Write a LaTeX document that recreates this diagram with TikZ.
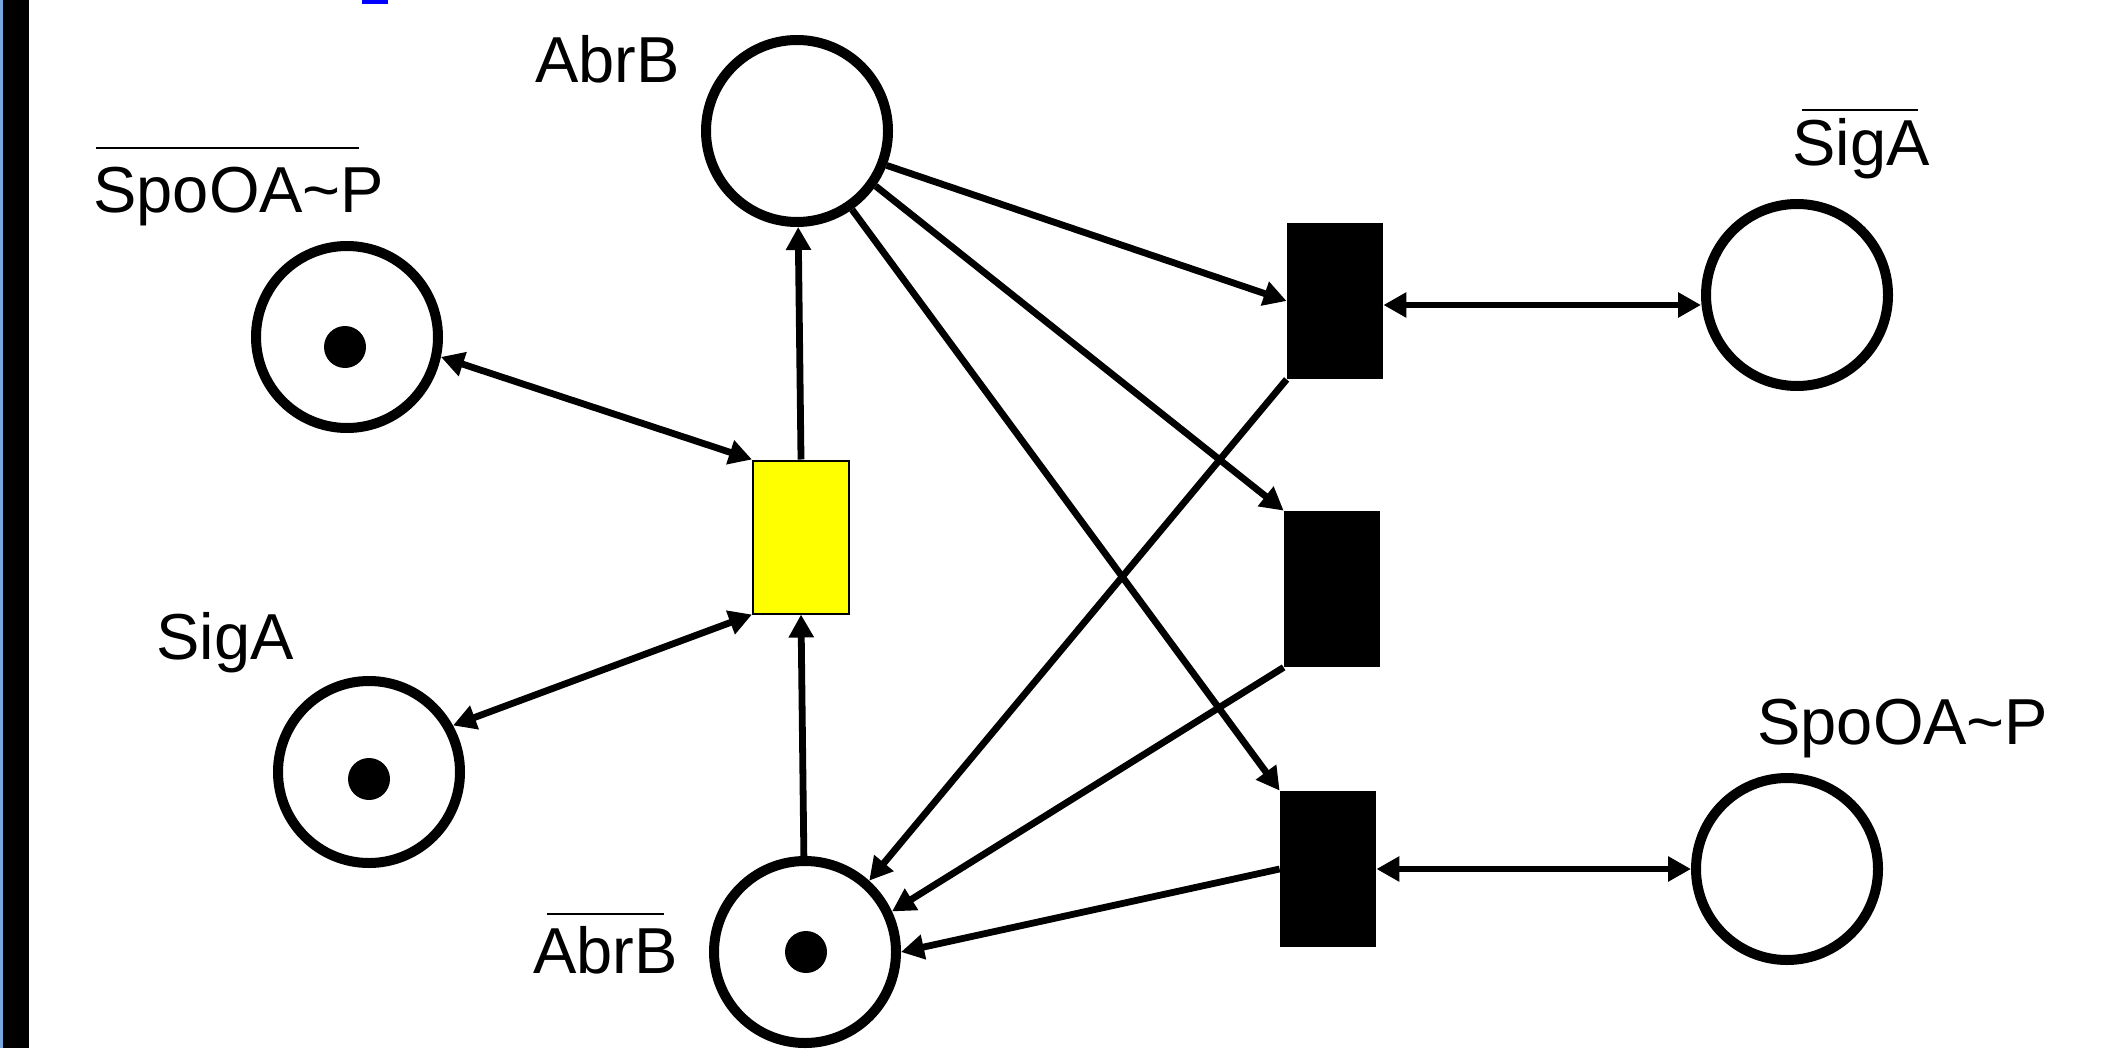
\documentclass[tikz,border=0pt]{standalone}
\usepackage{fontspec}
\setmainfont{Liberation Sans}
\usetikzlibrary{arrows.meta}
\definecolor{edgeblue}{HTML}{78A8E0}
\definecolor{markblue}{RGB}{0,0,255}
\definecolor{pnyellow}{RGB}{255,255,0}
\begin{document}
\begin{tikzpicture}[x=0.5pt,y=-0.5pt,
  place/.style={circle,draw=black,line width=5pt,minimum size=91pt,inner sep=0pt},
  trans/.style={rectangle,fill=black,minimum width=48pt,minimum height=78pt,inner sep=0pt},
  ytrans/.style={rectangle,fill=pnyellow,draw=black,line width=1pt,minimum width=48pt,minimum height=76.5pt,inner sep=0pt},
  token/.style={circle,fill=black,minimum size=21pt,inner sep=0pt},
  lab/.style={anchor=base west,inner sep=0pt,font=\fontsize{32.5pt}{39pt}\selectfont},
  arc/.style={line width=3.4pt,-{Triangle[length=11.5pt,width=12pt]}},
  darc/.style={line width=3.4pt,{Triangle[length=11.5pt,width=12pt]}-{Triangle[length=11.5pt,width=12pt]}},
  ovl/.style={line width=1.4pt}
]
\useasboundingbox (0,0) rectangle (2112,1048);
\fill[white] (0,0) rectangle (2112,1048);
\fill[edgeblue] (0,0) rectangle (3,1048);
\fill[black] (3,0) rectangle (29,1048);
\fill[markblue] (362,0) rectangle (388,4);

% places
\node[place] (A) at (797,131) {};
\node[place] (SP) at (347,337) {};
\node[place] (SG) at (369,772) {};
\node[place] (B) at (805,952) {};
\node[place] (RS) at (1797,295) {};
\node[place] (RP) at (1787,869) {};

% tokens
\node[token] (k1) at (345,347) {};
\node[token] (k2) at (369,779) {};
\node[token] (k3) at (806,952) {};

% transitions
\node[ytrans] (Y) at (801,537) {};
\node[trans] (T1) at (1335,301) {};
\node[trans] (T2) at (1332,589) {};
\node[trans] (T3) at (1328,869) {};

% arcs
\draw[arc] (Y.north) -- (A);
\draw[arc] (B) -- (Y.south);
\draw[darc] (SP.-12) -- (Y.north west);
\draw[darc] (SG.29) -- (Y.south west);
\draw[arc] (A.-21) -- (T1.west);
\draw[arc] (A.-35) -- (T2.north west);
\draw[arc] (A.-55) -- (T3.north west);
\draw[arc] (T1.south west) -- (B.48);
\draw[arc] (T2.south west) -- (B.25);
\draw[arc] (T3.west) -- (B.0);
\draw[darc] ([yshift=-2pt]T1.east) -- ([yshift=-2pt]T1.east -| RS.west);
\draw[darc] (T3.east) -- (RP);

% labels
\node[lab] (lA) at (535,83) {AbrB};
\node[lab] (lSP) at (93,213) {SpoOA\textasciitilde P};
\node[lab] (lSG) at (156,659) {SigA};
\node[lab] (lB) at (533,973) {AbrB};
\node[lab] (lRS) at (1792,166) {SigA};
\node[lab] (lRP) at (1757,744) {SpoOA\textasciitilde P};

% overlines
\draw[ovl] (96,148) -- (359,148);
\draw[ovl] (547,914) -- (664,914);
\draw[ovl] (1802,110) -- (1918,110);
\end{tikzpicture}
\end{document}
